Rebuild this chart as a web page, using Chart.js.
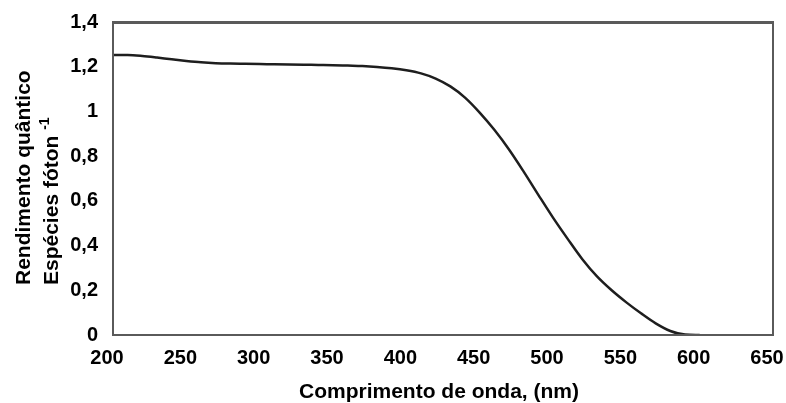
<!DOCTYPE html>
<html>
<head>
<meta charset="utf-8">
<script src="https://cdn.jsdelivr.net/npm/chart.js@4"></script>
<style>
  html, body { margin: 0; padding: 0; background: #fff; }
  #wrap { width: 786px; height: 403px; }
</style>
</head>
<body>
<div id="wrap"><canvas id="grafico" width="786" height="403"></canvas></div>
<script>
// comprimento de onda (nm) e rendimento quântico
const comprimentos = [200, 210, 220, 230, 240, 250, 260, 270, 280, 290, 300, 310, 320, 330, 340, 350,
    360, 370, 380, 390, 400, 410, 420, 430, 440, 450, 460, 470, 480, 490, 500, 510, 520, 530,
    540, 550, 560, 570, 580, 590, 600];
const rendimento = [1.252, 1.252, 1.248, 1.241, 1.233, 1.226, 1.22, 1.216, 1.214, 1.213, 1.212, 1.211, 1.21, 1.209, 1.208, 1.207,
    1.205, 1.203, 1.199, 1.193, 1.184, 1.17, 1.147, 1.112, 1.062, 0.995, 0.918, 0.83, 0.731, 0.627, 0.525, 0.43, 0.339, 0.262,
    0.2, 0.146, 0.097, 0.052, 0.018, 0.002, 0.0];

const xTicks = [200, 250, 300, 350, 400, 450, 500, 550, 600, 650];
const yTicks = [0, 0.2, 0.4, 0.6, 0.8, 1, 1.2, 1.4];

const tituloX = 'Comprimento de onda, (nm)';
const tituloY1 = 'Rendimento quântico';
const tituloY2 = 'Espécies fóton';
const expoente = '-1';

const fonte = '"Liberation Sans", Arial, sans-serif';

// moldura e títulos dos eixos
const molduraPlugin = {
    id: 'moldura',
    afterDraw(chart) {
        const ctx = chart.ctx;
        const a = chart.chartArea;
        ctx.save();
        ctx.strokeStyle = '#5a5a5a';
        ctx.lineWidth = 2;
        ctx.strokeRect(a.left, a.top, a.right - a.left, a.bottom - a.top);
        ctx.lineWidth = 3;
        ctx.beginPath();
        ctx.moveTo(a.left, a.top + 0.5);
        ctx.lineTo(a.right, a.top + 0.5);
        ctx.stroke();

        ctx.fillStyle = '#000';
        ctx.font = 'bold 21px ' + fonte;
        ctx.textAlign = 'center';
        ctx.textBaseline = 'alphabetic';
        ctx.fillText(tituloX, 439, 398);

        ctx.rotate(-Math.PI / 2);
        ctx.textAlign = 'left';
        ctx.fillText(tituloY1, -285, 30);
        ctx.fillText(tituloY2, -285, 58);
        const w = ctx.measureText(tituloY2 + ' ').width;
        ctx.font = 'bold 14px ' + fonte;
        ctx.fillText(expoente, -285 + w, 49);
        ctx.restore();
    }
};

const pontos = comprimentos.map(function (c, i) {
    return { x: c, y: rendimento[i] };
});

new Chart(document.getElementById('grafico'), {
    type: 'line',
    data: {
        datasets: [{
            data: pontos,
            borderColor: '#1e1e1e',
            borderWidth: 2.5,
            pointRadius: 0,
            cubicInterpolationMode: 'monotone',
            fill: false
        }]
    },
    options: {
        responsive: false,
        animation: false,
        layout: { padding: { left: 0, top: 22, right: 13, bottom: 0 } },
        plugins: {
            legend: { display: false },
            tooltip: { enabled: false }
        },
        scales: {
            x: {
                type: 'linear',
                min: 200,
                max: 650,
                grid: { display: false, drawTicks: false },
                border: { display: false },
                afterBuildTicks(scale) {
                    scale.ticks = xTicks.map(v => ({ value: v }));
                },
                afterFit(scale) {
                    scale.height = 68;
                    scale.paddingLeft = 0;
                    scale.paddingRight = 0;
                },
                ticks: {
                    padding: 11,
                    labelOffset: -6,
                    color: '#000',
                    font: { family: fonte, size: 20, weight: 'bold' },
                    maxRotation: 0
                }
            },
            y: {
                min: 0,
                max: 1.4,
                grid: { display: false, drawTicks: false },
                border: { display: false },
                afterBuildTicks(scale) {
                    scale.ticks = yTicks.map(v => ({ value: v }));
                },
                afterFit(scale) {
                    scale.width = 113;
                    scale.paddingTop = 0;
                    scale.paddingBottom = 0;
                },
                ticks: {
                    padding: 15,
                    color: '#000',
                    font: { family: fonte, size: 20, weight: 'bold' },
                    callback: function (v) {
                        return (Math.round(v * 10) / 10).toString().replace('.', ',');
                    }
                }
            }
        }
    },
    plugins: [molduraPlugin]
});
</script>
</body>
</html>
